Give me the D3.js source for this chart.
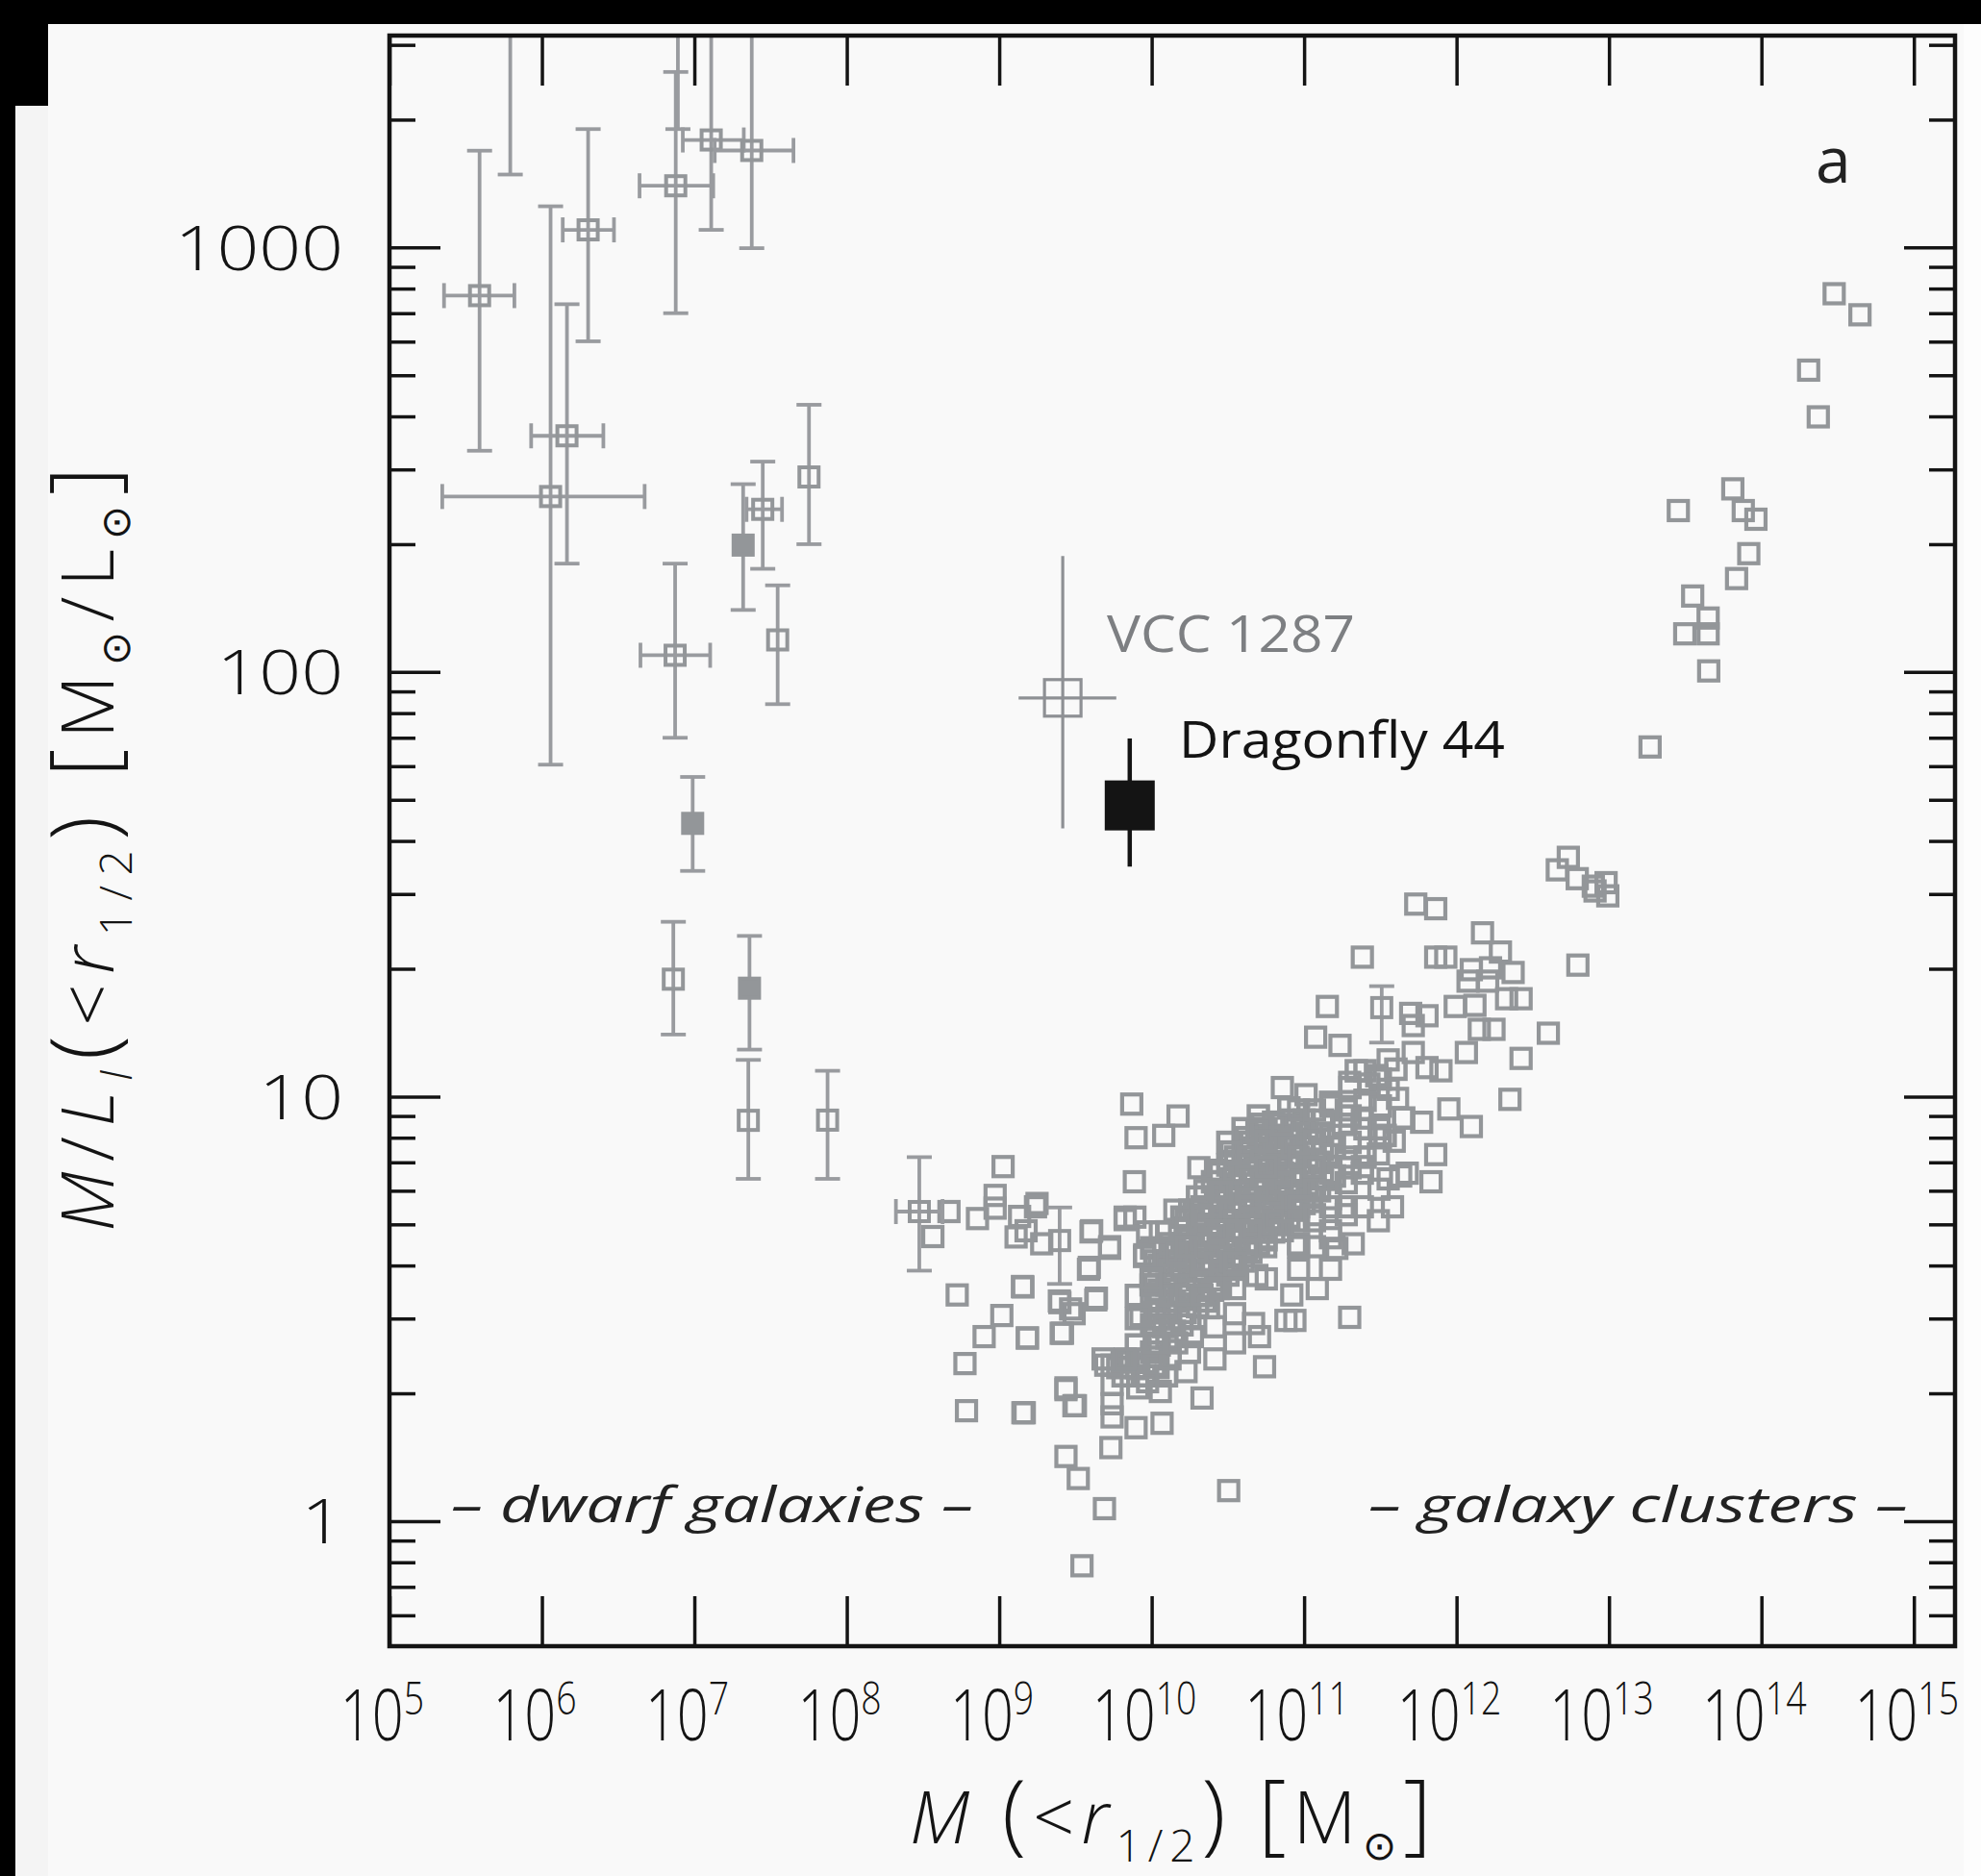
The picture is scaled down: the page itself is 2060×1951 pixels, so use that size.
<!DOCTYPE html>
<html>
<head>
<meta charset="utf-8">
<script src="https://cdn.jsdelivr.net/npm/d3@7"></script>
<style>
  html, body { margin: 0; padding: 0; background: #000; }
  svg { display: block; }
</style>
</head>
<body>
<script>
// ---- Data -----------------------------------------------------------------
// Mass within the half-light radius [M_sun] and dynamical M/L_I within it.

// Galaxies (open squares, no error bars): [mass, M/L]
const galaxies = [
  [5.4e11,28.4],[7.3e11,27.7],[1.48e12,24.3],[1.94e12,21.9],[7.3e11,21.3],[8.5e11,21.3],
  [1.25e12,19.9],[1.67e12,20.1],[1.19e12,18.7],[1.6e12,18.7],[2.35e12,19.6],[2.41e11,21.3],
  [9.8e11,16.3],[1.32e12,16.4],[2.13e12,17.0],[2.65e12,17.0],[1.42e11,16.3],[5.0e11,15.7],
  [6.4e11,15.5],[5.2e11,14.7],[1.19e11,13.8],[1.72e11,13.2],[1.41e12,14.4],[1.76e12,14.4],
  [1.16e12,12.7],[2.65e12,12.3],[3.56e11,12.2],[5.2e11,12.7],[6.4e11,11.7],[7.9e11,11.5],
  [2.24e12,9.85],[7.2e10,10.5],[1.03e11,10.1],[1.99e11,10.8],[2.66e11,10.7],[3.56e11,10.4],
  [4.1e11,9.9],[8.9e11,9.35],[1.25e12,8.5],[5.9e11,8.7],
  [7.4e9,9.6],[1.49e10,9.0],[1.2e10,8.1],[7.9e9,8.0],[7.7e9,6.3],[4.9e10,8.3],[3.2e10,7.4],
  [2.04e10,6.8],[7.3e11,7.3],[6.8e11,6.3],[3.8e11,5.5],[4.3e11,6.5],[6.7e9,5.2],[1.42e10,5.4],
  [9.4e9,4.8],[1.26e10,4.8],
  [2.14e10,5.5],[2.73e10,6.05],[3.5e10,6.6],[4.4e10,7.2],[5.6e10,7.85],[7.2e10,8.6],
  [9.2e10,9.3],[1.17e11,9.3],[1.49e11,9.7],[1.89e11,9.3],[2.41e11,8.9],[3.1e11,8.4],
  [3.9e11,7.85],[3.5e10,5.1],[4.4e10,5.5],[5.6e10,6.05],[7.2e10,6.6],[9.2e10,7.2],
  [1.17e11,7.85],[1.49e11,8.1],[1.89e11,7.2],[2.41e11,6.6],[1.17e11,6.05],[1.49e11,6.6],
  [9.2e10,5.5],[7.2e10,5.0],[5.6e10,4.65],[1.17e11,5.1],[1.49e11,4.65],[1.89e11,5.5],
  [3.1e11,6.05],[2.73e10,4.65],[4.4e10,4.5],[9.2e10,4.5],[2.1e11,4.5],[1.68e10,5.1],
  [2.41e11,5.5],[3.07e11,5.1],[1.49e11,5.5],
  [1.77e9,5.6],[4.0e9,4.8],[5.3e9,4.43],[1.42e9,3.57],[3.9e9,3.96],[4.3e9,3.32],[2.5e9,3.27],
  [3.1e9,3.08],[1.53e9,2.7],[2.6e9,2.77],[8.5e9,3.05],[9.9e9,3.6],[9.0e9,4.24],[1.14e10,4.8],
  [1.46e10,4.27],[5.0e9,2.33],[6.4e9,2.37],[8.1e9,2.41],[1.04e10,2.33],[1.32e10,2.41],
  [5.5e9,2.1],[8.1e9,2.06],[1.14e10,2.02],[5.5e9,1.89],[5.5e9,1.76],[2.74e9,2.04],[3.16e9,1.87],
  [1.46e9,1.8],[7.9e9,1.66],[1.17e10,1.7],[2.14e10,1.95],[1.68e10,2.25],[5.4e9,1.49],
  [2.74e9,1.42],[3.3e9,1.26],[4.9e9,1.07],[3.2e10,1.18],[5.5e10,2.31],[5.1e10,2.72],
  [3.5e10,2.63],[2.6e10,2.87],[2.6e10,2.41],[1.85e10,2.72],[3.5e10,3.08],[7.6e10,2.97],
  [8.7e10,2.97],[1.99e11,3.02],[8.3e10,3.41],[1.22e11,3.53],[4.9e10,3.79],[1.64e11,4.39],
  [1.49e11,3.92],[4.75e11,6.6],[3.56e11,6.4],[9.2e10,5.1],[1.17e11,4.43],[5.6e10,4.43],
  [3.5e10,4.83],[2.14e10,4.06],[2.73e10,3.53],[1.68e10,3.41],[1.2e10,2.87],[4.4e10,5.75],
  [7.2e10,6.27],[1.49e11,5.75],[2.41e11,6.84],[9.2e10,3.92],[6.2e10,5.1],[2.14e10,5.27],
  [2.86e10,5.96],[3.07e11,7.33],[1.46e10,2.63],[4.66e10,2.92],[2.36e10,3.18],
  [2.73e10,4.83],[4.43e10,4.83],[7.2e10,4.83],[1.17e11,5.27],[3.5e10,4.06],[5.65e10,3.72],
  [2.14e10,3.41],[3.5e10,3.53],[9.2e10,4.43],[1.49e11,4.83],[1.89e11,5.27],[5.65e10,6.84],
  [1.17e11,6.84],[1.89e11,6.27],[1.68e10,4.43],[1.77e10,2.5],[1.04e10,2.63],
  [1.06e9,6.84],[4.68e8,5.36],[7.2e8,5.16],[3.67e8,4.68],[9.4e8,5.85],[9.4e8,5.46],
  [1.36e9,5.22],[1.73e9,5.5],[1.29e9,4.67],[1.5e9,4.83],[4.04e9,4.83],[5.3e9,4.39],
  [6.7e9,5.13],[3.85e9,3.92],[5.3e8,3.41],[1.43e9,3.56],[1.04e9,3.05],[7.96e8,2.72],
  [5.96e8,2.35],[1.53e9,2.7],[2.55e9,2.77],[2.48e9,3.3],[4.34e9,3.35],[2.94e9,3.16],
  [6.1e8,1.82],[1.43e9,1.8],[2.74e9,2.06],[3.09e9,1.87],[3.49e9,0.785],[7.76e9,5.2],
  [8.97e9,4.2],[5.5e9,2.33],[6.7e9,2.41],[9.4e9,2.13],[4.8e9,2.41],[9.9e9,3.73],[1.9e9,4.5]
];

// Dense core of the galaxy sequence: [mass, M/L]
const galaxyCore = [
  [7.94e9,2.3],[7.94e9,2.6],[7.94e9,3.0],[7.94e9,3.4],
  [1.0e10,2.5],[1.0e10,2.9],[1.0e10,3.3],[1.0e10,3.8],[1.0e10,4.4],
  [1.12e10,2.6],[1.12e10,3.0],[1.12e10,3.5],[1.12e10,4.0],
  [1.26e10,2.7],[1.26e10,3.1],[1.26e10,3.6],[1.26e10,4.1],[1.26e10,4.8],
  [1.41e10,2.8],[1.41e10,3.3],[1.41e10,3.8],[1.41e10,4.4],
  [1.58e10,2.9],[1.58e10,3.4],[1.58e10,3.9],[1.58e10,4.5],[1.58e10,5.2],
  [1.78e10,3.0],[1.78e10,3.5],[1.78e10,4.1],[1.78e10,4.7],[1.78e10,5.4],
  [2.0e10,3.2],[2.0e10,3.7],[2.0e10,4.3],[2.0e10,5.0],[2.0e10,5.8],
  [2.24e10,3.3],[2.24e10,3.9],[2.24e10,4.5],[2.24e10,5.2],[2.24e10,6.0],
  [2.51e10,3.5],[2.51e10,4.0],[2.51e10,4.7],[2.51e10,5.4],[2.51e10,6.3],
  [2.82e10,3.6],[2.82e10,4.2],[2.82e10,4.9],[2.82e10,5.7],[2.82e10,6.6],
  [3.16e10,3.8],[3.16e10,4.4],[3.16e10,5.1],[3.16e10,5.9],[3.16e10,6.9],[3.16e10,7.8],
  [3.55e10,4.0],[3.55e10,4.6],[3.55e10,5.4],[3.55e10,6.2],[3.55e10,7.2],
  [3.98e10,4.1],[3.98e10,4.8],[3.98e10,5.6],[3.98e10,6.4],[3.98e10,7.4],[3.98e10,8.4],
  [4.47e10,4.3],[4.47e10,5.0],[4.47e10,5.8],[4.47e10,6.7],[4.47e10,7.8],
  [5.01e10,4.5],[5.01e10,5.2],[5.01e10,6.0],[5.01e10,7.0],[5.01e10,8.0],[5.01e10,9.0],
  [5.62e10,4.6],[5.62e10,5.4],[5.62e10,6.3],[5.62e10,7.3],[5.62e10,8.4],
  [6.31e10,4.8],[6.31e10,5.6],[6.31e10,6.5],[6.31e10,7.5],[6.31e10,8.7],
  [7.08e10,5.0],[7.08e10,5.8],[7.08e10,6.8],[7.08e10,7.8],
  [7.94e10,5.2],[7.94e10,6.0],[7.94e10,7.0],[7.94e10,8.1],[7.94e10,9.4],
  [8.91e10,5.4],[8.91e10,6.3],[8.91e10,7.3],[8.91e10,8.5],
  [1.0e11,5.6],[1.0e11,6.5],[1.0e11,7.6],[1.0e11,8.8],
  [1.12e11,5.8],[1.12e11,6.8],[1.12e11,7.9],
  [1.26e11,6.0],[1.26e11,7.0],[1.26e11,8.2],
  [1.58e11,6.5],[1.58e11,7.6],
  [2.0e11,6.8],[2.0e11,7.8],[2.0e11,9.0],[2.0e11,10.5],
  [2.51e11,7.2],[2.51e11,8.4],[2.51e11,9.8],[2.51e11,11.5],
  [3.16e11,8.0],[3.16e11,9.5],[3.16e11,11.0],
  [1.5e11,9.5],[2.2e11,11.5],[3.0e11,11.2],[4.0e11,11.6],[1.8e11,8.6],[4.5e11,8.9],[3.4e11,8.1],
  [6.0e9,2.3],[7.0e9,2.4],[9.0e9,2.2],[1.1e10,2.3],[6.5e9,2.2],[1.25e10,2.2],
  [1.05e10,2.7],[1.05e10,3.1],[1.05e10,3.6],[1.05e10,4.1],
  [1.32e10,2.9],[1.32e10,3.4],[1.32e10,3.9],[1.32e10,4.5],
  [1.66e10,3.1],[1.66e10,3.6],[1.66e10,4.2],[1.66e10,4.9],
  [2.09e10,3.4],[2.09e10,4.0],[2.09e10,4.6],[2.09e10,5.4],
  [2.63e10,3.7],[2.63e10,4.3],[2.63e10,5.0],[2.63e10,5.8],[2.63e10,6.7],
  [3.31e10,4.1],[3.31e10,4.7],[3.31e10,5.5],[3.31e10,6.4],[3.31e10,7.4],
  [4.17e10,4.4],[4.17e10,5.1],[4.17e10,6.0],[4.17e10,6.9],[4.17e10,8.0],
  [5.25e10,4.8],[5.25e10,5.5],[5.25e10,6.4],[5.25e10,7.5],[5.25e10,8.6],
  [6.61e10,5.1],[6.61e10,5.9],[6.61e10,6.9],[6.61e10,8.0],
  [8.32e10,5.6],[8.32e10,6.5],[8.32e10,7.6],[8.32e10,8.8],
  [1.05e11,6.0],[1.05e11,7.0],[1.05e11,8.2],
  [1.32e11,6.4],[1.32e11,7.5],[1.32e11,8.8]
];

// Galaxy groups and clusters: [mass, M/L]
const clusters = [
  [3.0e14,778],[4.43e14,694],[2.04e14,514],[2.36e14,399],[6.49e13,270],[2.85e13,240],
  [7.6e13,240],[9.2e13,229],[8.26e13,190],[6.87e13,166],[3.54e13,151],[4.47e13,134],
  [3.14e13,123],[4.47e13,123],[4.51e13,100.6],[1.86e13,66.6],
  [5.41e12,36.6],[4.58e12,34.2],[6.19e12,32.6],[7.89e12,31.3],[9.57e12,31.9],[9.82e12,29.7],
  [8.1e12,30.5],[6.25e12,20.4],[4.0e12,14.1]
];

// Dwarf spheroidals and faint systems with error bars:
// [mass, massLo, massHi, M/L, M/L lo, M/L hi, filled]
const dwarfs = [
  [3.9e5, 2.28e5, 6.6e5, 770, 332, 1690, 0],
  [6.2e5, null, null, 4500, 1485, 9000, 0],
  [2.01e6, 1.37e6, 2.97e6, 1100, 601, 1900, 0],
  [1.46e6, 8.5e5, 2.53e6, 360, 180, 735, 0],
  [1.14e6, 2.22e5, 4.72e6, 259, 60.5, 1250, 0],
  [7.55e6, 4.37e6, 1.33e7, 1397, 700, 2590, 0],
  [7.8e6, null, null, 5000, 1900, 9000, 0],
  [1.29e7, 8.4e6, 2.11e7, 1791, 1100, 5000, 0],
  [2.38e7, 1.36e7, 4.47e7, 1692, 996, 5000, 0],
  [7.48e6, 4.43e6, 1.27e7, 109.5, 70, 180, 0],
  [2.09e7, null, null, 199, 140, 277, 1],
  [2.81e7, 2.2e7, 3.76e7, 241.6, 175, 313, 0],
  [5.65e7, null, null, 288, 200, 426, 0],
  [3.52e7, null, null, 119, 84, 160, 0],
  [9.75e6, null, null, 44, 34, 56.6, 1],
  [7.28e6, null, null, 18.9, 14.0, 25.8, 0],
  [2.30e7, null, null, 18.0, 12.9, 23.9, 1],
  [2.26e7, null, null, 8.79, 6.4, 12.2, 0],
  [7.48e7, null, null, 8.8, 6.4, 11.5, 0],
  [2.99e8, 2.1e8, 4.25e8, 5.36, 3.89, 7.2, 0],
  [2.49e9, null, null, 4.58, 3.62, 5.48, 0],
  [3.23e11, null, null, 16.2, 13.4, 18.2, 0]
];

// Highlighted ultra-diffuse galaxies: [mass, massLo, massHi, M/L, lo, hi]
const vcc1287 = [2.61e9, 1.34e9, 5.86e9, 86.9, 42.8, 187.6];
const dragonfly44 = [7.18e9, null, null, 48.5, 34.8, 69.7];

// Axis ticks
const massExponents = [5, 6, 7, 8, 9, 10, 11, 12, 13, 14, 15];
const ratioMajor = [1, 10, 100, 1000];
const ratioMinor = [0.6, 0.7, 0.8, 0.9, 2, 3, 4, 5, 6, 7, 8, 9, 20, 30, 40, 50, 60, 70, 80, 90,
                    200, 300, 400, 500, 600, 700, 800, 900, 2000, 3000];

// ---- Layout ---------------------------------------------------------------
const W = 2060, H = 1951;
const frame = { left: 405, right: 2033, top: 37, bottom: 1712 };
const FONT = "'Open Sans', 'DejaVu Sans', sans-serif";
const GRAY = "#939699";
const INK = "#141414";

const x = d3.scaleLog().domain([1e5, 1.862e15]).range([frame.left, frame.right]);
const y = d3.scaleLog().domain([0.5075, 3155]).range([frame.bottom, frame.top]);

const svg = d3.select("body").append("svg")
  .attr("width", W).attr("height", H)
  .attr("viewBox", `0 0 ${W} ${H}`);

// page and panel background
svg.append("rect").attr("width", W).attr("height", H).attr("fill", "#000");
svg.append("rect").attr("x", 50).attr("y", 25).attr("width", W - 50).attr("height", H - 25)
  .attr("fill", "#f9f9f9");
svg.append("rect").attr("x", 16).attr("y", 110).attr("width", 34).attr("height", H - 110)
  .attr("fill", "#f4f4f4");
svg.append("rect").attr("x", 2042).attr("y", 25).attr("width", W - 2042).attr("height", H - 25)
  .attr("fill", "#fdfdfd");

svg.append("defs").append("clipPath").attr("id", "frame-clip")
  .append("rect")
  .attr("x", frame.left).attr("y", frame.top)
  .attr("width", frame.right - frame.left).attr("height", frame.bottom - frame.top);

const plot = svg.append("g").attr("clip-path", "url(#frame-clip)");

// ---- Marks ----------------------------------------------------------------
const S = 20; // marker side
function squares(g, data, sw) {
  g.selectAll("rect").data(data).join("rect")
    .attr("x", d => x(d[0]) - S / 2)
    .attr("y", d => y(d[1]) - S / 2)
    .attr("width", S).attr("height", S)
    .attr("fill", "none")
    .attr("stroke", GRAY)
    .attr("stroke-width", sw);
}
squares(plot.append("g"), galaxyCore, 4.5);
squares(plot.append("g"), galaxies, 4.2);
squares(plot.append("g"), clusters, 4.2);

// dwarfs with capped error bars
const eg = plot.append("g").attr("stroke", "#999b9f").attr("stroke-width", 3.8).attr("fill", "none");
const CAP = 13;
dwarfs.forEach(d => {
  const [m, mLo, mHi, r, rLo, rHi, filled] = d;
  const cx = x(m), cy = y(r);
  const g = eg.append("g");
  g.append("line").attr("x1", cx).attr("x2", cx).attr("y1", y(rHi)).attr("y2", y(rLo));
  [rLo, rHi].forEach(v => g.append("line")
    .attr("x1", cx - CAP).attr("x2", cx + CAP).attr("y1", y(v)).attr("y2", y(v)));
  if (mLo !== null) {
    g.append("line").attr("x1", x(mLo)).attr("x2", x(mHi)).attr("y1", cy).attr("y2", cy);
    [mLo, mHi].forEach(v => g.append("line")
      .attr("x1", x(v)).attr("x2", x(v)).attr("y1", cy - CAP).attr("y2", cy + CAP));
  }
  g.append("rect")
    .attr("x", cx - S / 2).attr("y", cy - S / 2).attr("width", S).attr("height", S)
    .attr("fill", filled ? GRAY : "none").attr("stroke", GRAY).attr("stroke-width", 4);
});

// VCC 1287
{
  const [m, mLo, mHi, r, rLo, rHi] = vcc1287;
  const g = plot.append("g").attr("stroke", "#8e9094").attr("stroke-width", 3.2).attr("fill", "none");
  const cx = x(m), cy = y(r), s = 38;
  g.append("line").attr("x1", cx).attr("x2", cx).attr("y1", y(rHi)).attr("y2", y(rLo));
  g.append("line").attr("x1", x(mLo)).attr("x2", x(mHi)).attr("y1", cy).attr("y2", cy);
  g.append("rect").attr("x", cx - s / 2).attr("y", cy - s / 2).attr("width", s).attr("height", s);
}
// Dragonfly 44
{
  const [m, , , r, rLo, rHi] = dragonfly44;
  const g = plot.append("g");
  const cx = x(m), cy = y(r), s = 52;
  g.append("line").attr("x1", cx).attr("x2", cx).attr("y1", y(rHi)).attr("y2", y(rLo))
    .attr("stroke", INK).attr("stroke-width", 4.5);
  g.append("rect").attr("x", cx - s / 2).attr("y", cy - s / 2).attr("width", s).attr("height", s)
    .attr("fill", INK);
}

// ---- Axes -----------------------------------------------------------------
const decades = massExponents.map(e => Math.pow(10, e));
function styleTicks(g) {
  g.select(".domain").remove();
  g.selectAll(".tick line").attr("stroke", INK).attr("stroke-width", 3.5);
}

// bottom (with labels) and top
const xb = svg.append("g").attr("transform", `translate(0,${frame.bottom})`)
  .call(d3.axisBottom(x).tickValues(decades).tickSize(-52).tickSizeOuter(0).tickFormat(""))
  .call(styleTicks);
xb.selectAll(".tick text").remove();
xb.selectAll(".tick").each(function(d, i) {
  const t = d3.select(this).append("text")
    .attr("text-anchor", "middle")
    .attr("transform", "translate(-8,98) scale(0.78,1)")
    .attr("fill", INK)
    .style("font-family", FONT)
    .style("font-weight", 300)
    .style("font-size", "74px");
  t.append("tspan").text("10");
  t.append("tspan").attr("dy", -27).style("font-size", "48px").text(String(massExponents[i]));
});
svg.append("g").attr("transform", `translate(0,${frame.top})`)
  .call(d3.axisTop(x).tickValues(decades).tickSize(-52).tickSizeOuter(0).tickFormat(""))
  .call(styleTicks);

// left
const yl = svg.append("g").attr("transform", `translate(${frame.left},0)`)
  .call(d3.axisLeft(y).tickValues(ratioMajor).tickSize(-53).tickSizeOuter(0).tickPadding(48)
    .tickFormat(d3.format("d")))
  .call(styleTicks);
yl.selectAll(".tick text")
  .attr("x", 0).attr("dy", "0.36em")
  .attr("transform", "translate(-48,0) scale(1.2,1)")
  .attr("fill", INK)
  .style("font-family", FONT).style("font-weight", 300).style("font-size", "64px");
svg.append("g").attr("transform", `translate(${frame.left},0)`)
  .call(d3.axisLeft(y).tickValues(ratioMinor).tickSize(-27).tickSizeOuter(0).tickFormat(""))
  .call(styleTicks);

// right
svg.append("g").attr("transform", `translate(${frame.right},0)`)
  .call(d3.axisRight(y).tickValues(ratioMajor).tickSize(-53).tickSizeOuter(0).tickFormat(""))
  .call(styleTicks);
svg.append("g").attr("transform", `translate(${frame.right},0)`)
  .call(d3.axisRight(y).tickValues(ratioMinor).tickSize(-27).tickSizeOuter(0).tickFormat(""))
  .call(styleTicks);

// frame
svg.append("rect")
  .attr("x", frame.left).attr("y", frame.top)
  .attr("width", frame.right - frame.left).attr("height", frame.bottom - frame.top)
  .attr("fill", "none").attr("stroke", INK).attr("stroke-width", 4.5);

// ---- Axis titles ------------------------------------------------------------
function addParts(t, parts) {
  parts.forEach(p => {
    const s = t.append("tspan").text(p.t);
    if (p.size) s.style("font-size", p.size + "px");
    if (p.it) s.style("font-style", "italic");
    if (p.dy) s.attr("dy", p.dy);
  });
}

const xt = svg.append("text")
  .attr("x", 946).attr("y", 1917)
  .attr("fill", INK)
  .style("font-family", FONT).style("font-size", "76px").style("font-weight", 300)
  .style("letter-spacing", "7px");
addParts(xt, [
  { t: "M", it: 1 }, { t: " " }, { t: "(", size: 92 }, { t: "<" }, { t: "r", it: 1 },
  { t: "1/2", size: 46, dy: 19 }, { t: ")", size: 92, dy: -19 }, { t: " " },
  { t: "[", size: 92 }, { t: "M" }, { t: "\u2299", size: 42, dy: 17 }, { t: "]", size: 92, dy: -17 }
]);

const yt = svg.append("text")
  .attr("transform", "translate(118,878) rotate(-90)")
  .attr("text-anchor", "middle")
  .attr("fill", INK)
  .style("font-family", FONT).style("font-size", "76px").style("font-weight", 300)
  .style("letter-spacing", "10.5px");
addParts(yt, [
  { t: "M", it: 1 }, { t: "/" }, { t: "L", it: 1 }, { t: "I", it: 1, size: 46, dy: 19 },
  { t: "(", size: 92, dy: -19 }, { t: "<" }, { t: "r", it: 1 }, { t: "1/2", size: 46, dy: 19 },
  { t: ")", size: 92, dy: -19 }, { t: " " }, { t: "[", size: 92 }, { t: "M" },
  { t: "\u2299", size: 42, dy: 17 }, { t: "/", dy: -17 }, { t: "L" },
  { t: "\u2299", size: 42, dy: 17 }, { t: "]", size: 92, dy: -17 }
]);

// ---- Annotations ------------------------------------------------------------
svg.append("text").attr("x", 1151).attr("y", 678)
  .attr("fill", "#7d7f82").attr("textLength", 258).attr("lengthAdjust", "spacingAndGlyphs")
  .style("font-family", FONT).style("font-size", "53px").text("VCC 1287");
svg.append("text").attr("x", 1226).attr("y", 788)
  .attr("fill", INK).attr("textLength", 339).attr("lengthAdjust", "spacingAndGlyphs")
  .style("font-family", FONT).style("font-size", "53px").text("Dragonfly 44");
svg.append("text").attr("x", 1888).attr("y", 190)
  .attr("fill", "#222").style("font-family", FONT).style("font-size", "66px").text("a");
svg.append("text").attr("x", 469).attr("y", 1583)
  .attr("fill", "#222").attr("textLength", 543).attr("lengthAdjust", "spacingAndGlyphs")
  .style("font-family", FONT).style("font-size", "52px").style("font-style", "italic")
  .text("\u2013 dwarf galaxies \u2013");
svg.append("text").attr("x", 1423).attr("y", 1583)
  .attr("fill", "#222").attr("textLength", 561).attr("lengthAdjust", "spacingAndGlyphs")
  .style("font-family", FONT).style("font-size", "52px").style("font-style", "italic")
  .text("\u2013 galaxy clusters \u2013");
</script>
</body>
</html>
